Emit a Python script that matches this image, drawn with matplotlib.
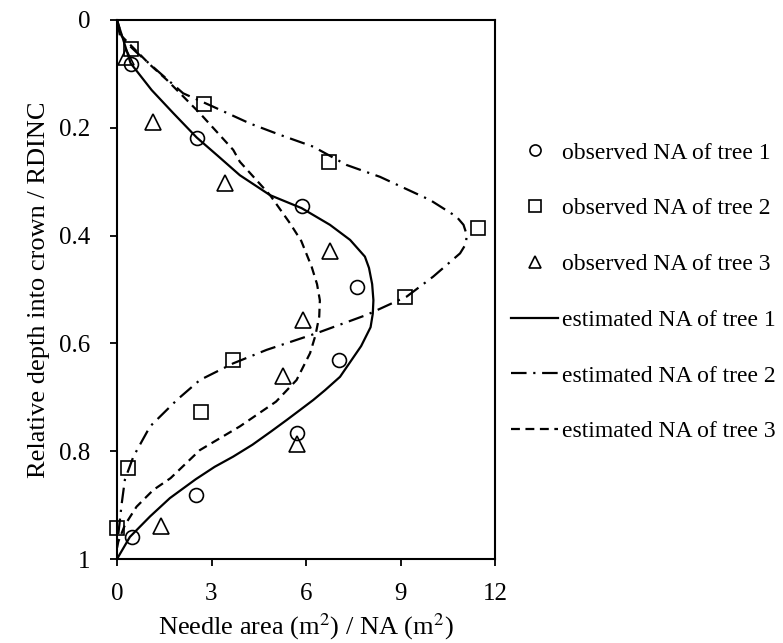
import numpy as np
import matplotlib
matplotlib.use("Agg")
from matplotlib import pyplot as plt
from matplotlib.lines import Line2D

plt.rcParams["font.family"] = ["Liberation Serif", "DejaVu Serif"]
plt.rcParams["mathtext.fontset"] = "stix"

# observed needle area (x) and relative depth (y)
obs1_x = [0.43, 2.53, 5.86, 7.63, 7.06, 5.70, 2.51, 0.47]
obs1_y = [0.082, 0.219, 0.346, 0.495, 0.631, 0.766, 0.881, 0.959]
obs2_x = [0.43, 2.77, 6.74, 11.45, 9.14, 3.69, 2.67, 0.36, 0.01]
obs2_y = [0.053, 0.155, 0.263, 0.386, 0.514, 0.630, 0.727, 0.831, 0.943]
obs3_x = [0.29, 1.15, 3.44, 6.76, 5.90, 5.28, 5.70, 1.40]
obs3_y = [0.069, 0.189, 0.303, 0.428, 0.557, 0.660, 0.787, 0.939]

# estimated curves
est1_x = [0, 0.2, 0.43, 1.1, 1.79, 2.53, 3.2, 3.9, 4.86, 5.86, 6.76, 7.4, 7.87,
          8.0, 8.1, 8.14, 8.12, 8.05, 7.75, 7.08, 6.6, 6.23, 5.8, 5.39, 4.9,
          4.3, 3.69, 3.1, 2.5, 1.68, 1.05, 0.41, 0]
est1_y = [0, 0.037, 0.08, 0.13, 0.173, 0.218, 0.252, 0.288, 0.325, 0.349, 0.380,
          0.408, 0.439, 0.46, 0.49, 0.52, 0.545, 0.57, 0.605, 0.662, 0.687,
          0.705, 0.724, 0.742, 0.763, 0.788, 0.810, 0.829, 0.852, 0.887, 0.921,
          0.959, 1.0]
est2_x = [0, 0.1, 0.62, 1.26, 2.1, 3.06, 4.22, 5.17, 6.23, 7.29, 8.35, 9.94,
          10.78, 11.0, 11.1, 11.08, 10.89, 10.04, 9.2, 7.93, 6.34, 4.75, 3.69,
          2.63, 1.9, 1.05, 0.52, 0.25, 0.15, 0.04, 0]
est2_y = [0, 0.031, 0.06, 0.093, 0.136, 0.161, 0.192, 0.213, 0.235, 0.269,
          0.291, 0.334, 0.365, 0.38, 0.398, 0.415, 0.433, 0.476, 0.513, 0.547,
          0.581, 0.612, 0.637, 0.668, 0.705, 0.754, 0.810, 0.853, 0.897, 0.955,
          0.975]
est3_x = [0, 0.15, 1.05, 1.58, 2.63, 3.69, 3.9, 4.86, 5.49, 5.85, 6.18, 6.35,
          6.44, 6.42, 6.3, 6.13, 5.70, 5.05, 3.9, 2.63, 1.7, 1.15, 0.62, 0.25,
          0.04, 0]
est3_y = [0, 0.03, 0.083, 0.111, 0.173, 0.241, 0.263, 0.325, 0.377, 0.41, 0.458,
          0.49, 0.52, 0.55, 0.585, 0.618, 0.668, 0.708, 0.754, 0.798, 0.85, 0.872,
          0.903, 0.937, 0.968, 0.98]

fig = plt.figure(figsize=(7.83, 6.43), dpi=100)
ax = fig.add_axes([117 / 783, 1 - 559 / 643, 378 / 783, 539 / 643])

ax.plot(est1_x, est1_y, color="black", linewidth=1.6)
ax.plot(est2_x, est2_y, color="black", linewidth=1.6, dashes=(7, 3, 1, 3))
ax.plot(est3_x, est3_y, color="black", linewidth=1.6, dashes=(4, 2.5))

mk = dict(linestyle="none", markerfacecolor="none", markeredgecolor="black",
          markeredgewidth=1.2, clip_on=False)
ax.plot(obs1_x, obs1_y, marker="o", markersize=10, **mk)
ax.plot(obs2_x, obs2_y, marker="s", markersize=10, **mk)
ax.plot(obs3_x, obs3_y, marker="^", markersize=11, **mk)

ax.set_xlim(0, 12)
ax.set_ylim(1, 0)
ax.set_xticks([0, 3, 6, 9, 12])
ax.set_yticks([0, 0.2, 0.4, 0.6, 0.8, 1])
ax.set_yticklabels(["0", "0.2", "0.4", "0.6", "0.8", "1"])
ax.tick_params(labelsize=18, direction="out", length=5, width=1.3)
ax.tick_params(axis="x", pad=12)
ax.tick_params(axis="y", pad=14)
for s in ax.spines.values():
    s.set_linewidth(1.5)

ax.set_xlabel("Needle area (m$^2$) / NA (m$^2$)", fontsize=19, labelpad=5)
ax.set_ylabel("Relative depth into crown / RDINC", fontsize=19, labelpad=6.6)

handles = [
    Line2D([], [], marker="o", markersize=8, **mk),
    Line2D([], [], marker="s", markersize=8, **mk),
    Line2D([], [], marker="^", markersize=8, **mk),
    Line2D([], [], color="black", linewidth=1.6),
    Line2D([], [], color="black", linewidth=1.6, dashes=(7, 3, 1, 3)),
    Line2D([], [], color="black", linewidth=1.6, dashes=(4, 2.5)),
]
labels = ["observed NA of tree 1", "observed NA of tree 2", "observed NA of tree 3",
          "estimated NA of tree 1", "estimated NA of tree 2", "estimated NA of tree 3"]
fig.legend(handles, labels, loc="upper left", bbox_to_anchor=(511 / 783, 1 - 142 / 643),
           frameon=False, fontsize=17, handlelength=2.0, handletextpad=0.15,
           labelspacing=1.45, borderpad=0, borderaxespad=0)

fig.savefig("out.png", dpi=100)
